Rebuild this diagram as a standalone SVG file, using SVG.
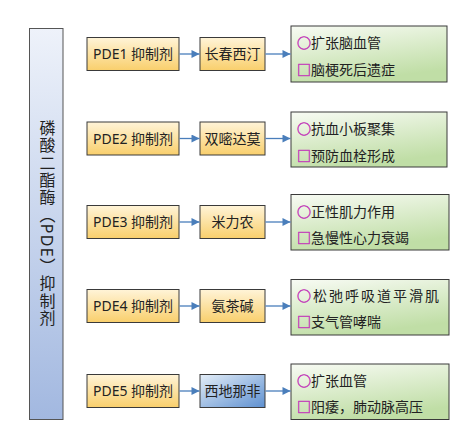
<svg xmlns="http://www.w3.org/2000/svg" width="459" height="434" viewBox="0 0 459 434">
<defs>
<linearGradient id="gBlue" x1="0" y1="0" x2="0" y2="1">
<stop offset="0" stop-color="#eef2fa"/>
<stop offset="1" stop-color="#a2b8e0"/>
</linearGradient>
<linearGradient id="gOrange" x1="0" y1="0" x2="0" y2="1">
<stop offset="0" stop-color="#fff4d8"/>
<stop offset="1" stop-color="#f9cf6c"/>
</linearGradient>
<linearGradient id="gDeep" x1="0" y1="0" x2="1" y2="1">
<stop offset="0" stop-color="#e4eef8"/>
<stop offset="1" stop-color="#5e90d0"/>
</linearGradient>
<linearGradient id="gGreen" x1="0" y1="0" x2="0.35" y2="1">
<stop offset="0" stop-color="#f8fbf4"/>
<stop offset="1" stop-color="#c0dea6"/>
</linearGradient>
<marker id="arr" viewBox="0 0 10 10" refX="10" refY="5" markerWidth="9" markerHeight="8" markerUnits="userSpaceOnUse" orient="auto">
<path d="M0,0 L10,5 L0,10 z" fill="#4a7ebb"/>
</marker>
</defs>
<style>
text{font-family:"Noto Sans","Noto Sans CJK SC",sans-serif;fill:#222}
.b{stroke:#3a3a3a;stroke-width:1}
.pde{fill:url(#gOrange)}
.drug{fill:url(#gOrange)}
.deep{fill:url(#gDeep)}
.eff{fill:url(#gGreen)}
.t14{font-size:14px}
.c{text-anchor:middle}
.m{fill:#c43fba;stroke:#c43fba;stroke-width:0.5;font-family:"Noto Sans CJK SC",sans-serif}
.ar{stroke:#4a7ebb;stroke-width:1.3;fill:none;marker-end:url(#arr)}
</style>
<rect width="459" height="434" fill="#ffffff"/>

<g id="main">
<rect x="29.5" y="28.5" width="33.5" height="391" fill="url(#gBlue)" stroke="#555" stroke-width="1"/>
<text x="46.5" y="120" writing-mode="vertical-rl" style="text-orientation:mixed;letter-spacing:1.3px;font-size:16px">磷酸二酯酶（PDE）抑制剂</text>
</g>

<g id="row1">
<g id="pde1"><rect class="pde b" x="87" y="37.5" width="92" height="33"/><text class="t14 c" x="133" y="59">PDE1 抑制剂</text></g>
<g id="drug1"><rect class="drug b" x="200" y="37.5" width="65" height="33"/><text class="t14 c" x="232.5" y="59">长春西汀</text></g>
<g id="eff1"><rect class="eff b" x="291" y="26" width="156" height="56"/><text class="t14" x="297" y="48"><tspan class="m">○</tspan>扩张脑血管</text><text class="t14" x="297" y="75"><tspan class="m">□</tspan>脑梗死后遗症</text></g>
</g>

<g id="row2">
<g id="pde2"><rect class="pde b" x="87" y="122" width="92" height="33"/><text class="t14 c" x="133" y="143.5">PDE2 抑制剂</text></g>
<g id="drug2"><rect class="drug b" x="200" y="122" width="65" height="33"/><text class="t14 c" x="232.5" y="143.5">双嘧达莫</text></g>
<g id="eff2"><rect class="eff b" x="291" y="112" width="156" height="55"/><text class="t14" x="297" y="134"><tspan class="m">○</tspan>抗血小板聚集</text><text class="t14" x="297" y="161"><tspan class="m">□</tspan>预防血栓形成</text></g>
</g>

<g id="row3">
<g id="pde3"><rect class="pde b" x="87" y="205.5" width="92" height="33"/><text class="t14 c" x="133" y="227">PDE3 抑制剂</text></g>
<g id="drug3"><rect class="drug b" x="200" y="205.5" width="65" height="33"/><text class="t14 c" x="232.5" y="227">米力农</text></g>
<g id="eff3"><rect class="eff b" x="291" y="194.5" width="158" height="55.5"/><text class="t14" x="297" y="216.5"><tspan class="m">○</tspan>正性肌力作用</text><text class="t14" x="297" y="243"><tspan class="m">□</tspan>急慢性心力衰竭</text></g>
</g>

<g id="row4">
<g id="pde4"><rect class="pde b" x="87" y="289.5" width="92" height="33"/><text class="t14 c" x="133" y="311">PDE4 抑制剂</text></g>
<g id="drug4"><rect class="drug b" x="200" y="289.5" width="65" height="33"/><text class="t14 c" x="232.5" y="311">氨茶碱</text></g>
<g id="eff4"><rect class="eff b" x="291" y="279.5" width="158" height="55.5"/><text class="t14" x="297" y="301" style="letter-spacing:2px"><tspan class="m">○</tspan>松弛呼吸道平滑肌</text><text class="t14" x="297" y="327"><tspan class="m">□</tspan>支气管哮喘</text></g>
</g>

<g id="row5">
<g id="pde5"><rect class="pde b" x="87" y="374.5" width="92" height="33"/><text class="t14 c" x="133" y="396">PDE5 抑制剂</text></g>
<g id="drug5"><rect class="deep b" x="200" y="374.5" width="65" height="33"/><text class="t14 c" x="232.5" y="396">西地那非</text></g>
<g id="eff5"><rect class="eff b" x="291" y="364" width="158" height="55.5"/><text class="t14" x="297" y="386"><tspan class="m">○</tspan>扩张血管</text><text class="t14" x="297" y="412"><tspan class="m">□</tspan>阳痿，肺动脉高压</text></g>
</g>

<g id="connectors">
<line class="ar" x1="179.5" y1="54" x2="199.5" y2="54"/>
<line class="ar" x1="265.5" y1="54" x2="290.5" y2="54"/>
<line class="ar" x1="179.5" y1="138.5" x2="199.5" y2="138.5"/>
<line class="ar" x1="265.5" y1="138.5" x2="290.5" y2="138.5"/>
<line class="ar" x1="179.5" y1="222" x2="199.5" y2="222"/>
<line class="ar" x1="265.5" y1="222" x2="290.5" y2="222"/>
<line class="ar" x1="179.5" y1="306" x2="199.5" y2="306"/>
<line class="ar" x1="265.5" y1="306" x2="290.5" y2="306"/>
<line class="ar" x1="179.5" y1="391" x2="199.5" y2="391"/>
<line class="ar" x1="265.5" y1="391" x2="290.5" y2="391"/>
</g>
</svg>
